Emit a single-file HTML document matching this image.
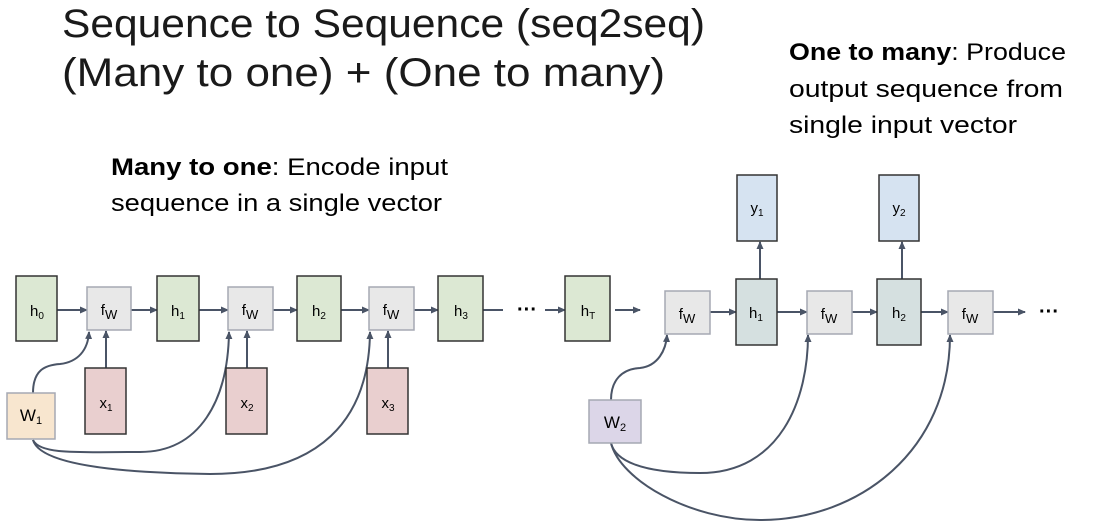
<!DOCTYPE html>
<html><head><meta charset="utf-8"><style>
html,body{margin:0;padding:0;background:#fff;}
svg{display:block;font-family:"Liberation Sans",sans-serif;}
</style></head><body>
<svg width="1097" height="530" viewBox="0 0 1097 530" xmlns="http://www.w3.org/2000/svg">
<defs>
<marker id="a" markerWidth="8" markerHeight="8" refX="7" refY="4" orient="auto" markerUnits="userSpaceOnUse">
<path d="M0,0.5 L8,4 L0,7.5 Z" fill="#4a5466"/></marker>
</defs>
<g fill="#000">
<text x="62" y="37" font-size="40" fill="#1a1a1a" textLength="643" lengthAdjust="spacingAndGlyphs">Sequence to Sequence (seq2seq)</text>
<text x="62" y="86" font-size="40" fill="#1a1a1a" textLength="603" lengthAdjust="spacingAndGlyphs">(Many to one) + (One to many)</text>
<text x="111" y="175" font-size="24" textLength="337" lengthAdjust="spacingAndGlyphs"><tspan font-weight="bold">Many to one</tspan>: Encode input</text>
<text x="111" y="211" font-size="24" textLength="331" lengthAdjust="spacingAndGlyphs">sequence in a single vector</text>
<text x="789" y="60" font-size="24" textLength="277" lengthAdjust="spacingAndGlyphs"><tspan font-weight="bold">One to many</tspan>: Produce</text>
<text x="789" y="97" font-size="24" textLength="274" lengthAdjust="spacingAndGlyphs">output sequence from</text>
<text x="789" y="133" font-size="24" textLength="228" lengthAdjust="spacingAndGlyphs">single input vector</text>
</g>
<line x1="483" y1="310" x2="503" y2="310" stroke="#4a5466" stroke-width="2"/>
<g stroke="#4a5466" stroke-width="2" fill="none" marker-end="url(#a)">
<line x1="57" y1="310" x2="87" y2="310"/>
<line x1="131" y1="310" x2="157" y2="310"/>
<line x1="199" y1="310" x2="228" y2="310"/>
<line x1="273" y1="310" x2="297" y2="310"/>
<line x1="341" y1="310" x2="369" y2="310"/>
<line x1="414" y1="310" x2="438" y2="310"/>
<line x1="545" y1="310" x2="565" y2="310"/>
<line x1="615" y1="310" x2="640" y2="310"/>
<line x1="710" y1="312" x2="736" y2="312"/>
<line x1="777" y1="312" x2="807" y2="312"/>
<line x1="852" y1="312" x2="877" y2="312"/>
<line x1="921" y1="312" x2="948" y2="312"/>
<line x1="993" y1="312" x2="1025" y2="312"/>
<line x1="106" y1="368" x2="106" y2="331"/>
<line x1="247" y1="368" x2="247" y2="331"/>
<line x1="388" y1="368" x2="388" y2="331"/>
<line x1="760" y1="279" x2="760" y2="242"/>
<line x1="902" y1="279" x2="902" y2="242"/>
<path d="M33,393 C33,370 45,365 60,364 C78,362 88,350 89,332"/>
<path d="M33,440 C40,455 80,452 140,452 C200,452 228,400 229,332"/>
<path d="M33,440 C40,465 120,473 210,474 C320,474 369,420 370,332"/>
<path d="M611,400 C611,380 622,369 640,368 C658,366 666,350 667,335"/>
<path d="M611,443 C615,460 640,473 700,473 C780,473 808,400 808,335"/>
<path d="M611,443 C620,480 690,520 760,520 C860,520 950,450 950,335"/>
</g>
<g stroke="#333" stroke-width="1.5">
<rect x="16" y="276" width="41" height="65" fill="#dce8d3"/>
<rect x="157" y="276" width="42" height="65" fill="#dce8d3"/>
<rect x="297" y="276" width="44" height="65" fill="#dce8d3"/>
<rect x="438" y="276" width="45" height="65" fill="#dce8d3"/>
<rect x="565" y="276" width="45" height="65" fill="#dce8d3"/>
<rect x="85" y="368" width="41" height="66" fill="#e9cfcf"/>
<rect x="226" y="368" width="41" height="66" fill="#e9cfcf"/>
<rect x="367" y="368" width="41" height="66" fill="#e9cfcf"/>
<rect x="737" y="175" width="40" height="66" fill="#d6e3f1"/>
<rect x="879" y="175" width="40" height="66" fill="#d6e3f1"/>
<rect x="736" y="279" width="41" height="66" fill="#d5e0e0"/>
<rect x="877" y="279" width="44" height="66" fill="#d5e0e0"/>
</g>
<g stroke="#a5a9b3" stroke-width="1.5">
<rect x="87" y="287" width="44" height="43" fill="#e8e8e8"/>
<rect x="228" y="287" width="45" height="43" fill="#e8e8e8"/>
<rect x="369" y="287" width="45" height="43" fill="#e8e8e8"/>
<rect x="665" y="291" width="45" height="43" fill="#e8e8e8"/>
<rect x="807" y="291" width="45" height="43" fill="#e8e8e8"/>
<rect x="948" y="291" width="45" height="43" fill="#e8e8e8"/>
<rect x="7" y="393" width="48" height="46" fill="#f8e6cf"/>
<rect x="589" y="400" width="52" height="43" fill="#dcd6e8"/>
</g>
<g font-size="15" fill="#000" text-anchor="middle">
<text x="37" y="316">h<tspan font-size="10" dy="3">0</tspan></text>
<text x="178" y="316">h<tspan font-size="10" dy="3">1</tspan></text>
<text x="319" y="316">h<tspan font-size="10" dy="3">2</tspan></text>
<text x="461" y="316">h<tspan font-size="10" dy="3">3</tspan></text>
<text x="588" y="316">h<tspan font-size="10" dy="3">T</tspan></text>
<text x="756" y="318">h<tspan font-size="10" dy="3">1</tspan></text>
<text x="899" y="318">h<tspan font-size="10" dy="3">2</tspan></text>
<text x="757" y="213">y<tspan font-size="10" dy="3">1</tspan></text>
<text x="899" y="213">y<tspan font-size="10" dy="3">2</tspan></text>
<text x="106" y="408">x<tspan font-size="10" dy="3">1</tspan></text>
<text x="247" y="408">x<tspan font-size="10" dy="3">2</tspan></text>
<text x="388" y="408">x<tspan font-size="10" dy="3">3</tspan></text>
<text x="109" y="315">f<tspan font-size="13" dy="4">W</tspan></text>
<text x="250" y="315">f<tspan font-size="13" dy="4">W</tspan></text>
<text x="391" y="315">f<tspan font-size="13" dy="4">W</tspan></text>
<text x="687" y="319">f<tspan font-size="13" dy="4">W</tspan></text>
<text x="829" y="319">f<tspan font-size="13" dy="4">W</tspan></text>
<text x="970" y="319">f<tspan font-size="13" dy="4">W</tspan></text>
<text x="31" y="421" font-size="17">W<tspan font-size="11" dy="3">1</tspan></text>
<text x="615" y="428" font-size="17">W<tspan font-size="11" dy="3">2</tspan></text>
<text x="527" y="316" font-size="20" font-weight="bold">···</text>
<text x="1049" y="318" font-size="20" font-weight="bold">···</text>
</g>
</svg>
</body></html>
